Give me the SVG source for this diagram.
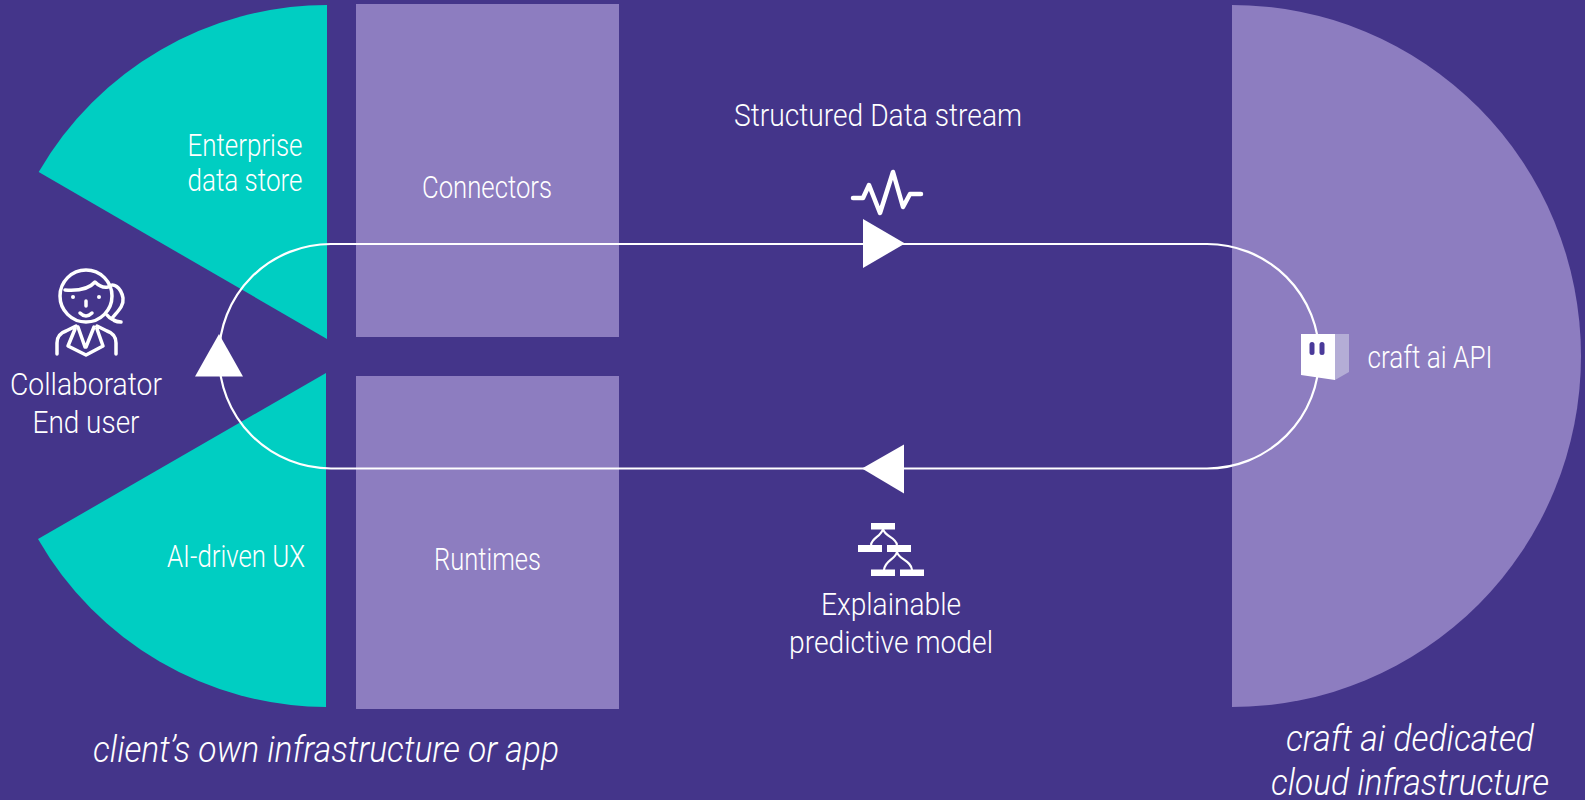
<svg xmlns="http://www.w3.org/2000/svg" width="1585" height="800" viewBox="0 0 1585 800">
<style>
.t{font-family:Roboto,"Liberation Sans",sans-serif;font-weight:300;font-size:31px;fill:#fff;text-anchor:middle}
.i{font-style:italic;font-size:37px}
.teal{fill:#00cec2}
.lav{fill:#8d7dc0}
.ln{fill:none;stroke:#fff;stroke-width:2.2}
.ic{fill:none;stroke:#fff;stroke-width:3.500;stroke-linecap:round;stroke-linejoin:round}
.tri{fill:#fff}
</style>
<rect width="1585" height="800" fill="#44358a"/>
<g id="enterprise-data-store"><path class="teal" d="M327 5V339L38.700 172A334 334 0 0 1 327 5Z"/><text class="t" x="245" y="156" textLength="115" lengthAdjust="spacingAndGlyphs">Enterprise</text><text class="t" x="245" y="191" textLength="115" lengthAdjust="spacingAndGlyphs">data store</text></g>
<g id="ai-driven-ux"><path class="teal" d="M326 373V707A334 334 0 0 1 38 539Z"/><text class="t" x="236" y="567" textLength="138" lengthAdjust="spacingAndGlyphs">AI-driven UX</text></g>
<g id="connectors"><rect class="lav" x="356" y="4" width="263" height="333"/><text class="t" x="487" y="198" textLength="130" lengthAdjust="spacingAndGlyphs">Connectors</text></g>
<g id="runtimes"><rect class="lav" x="356" y="376" width="263" height="333"/><text class="t" x="487.500" y="570" textLength="107" lengthAdjust="spacingAndGlyphs">Runtimes</text></g>
<g id="craft-ai-cloud"><path class="lav" d="M1232 5A349 351 0 0 1 1232 707Z"/></g>
<g id="links"><path class="ln" d="M219 356A112 112 0 0 1 331 244H1207A112 112 0 0 1 1207 468.500H331A112 112 0 0 1 219 356"/><path class="tri" d="M863 219L905 243.500L863 268Z"/><path class="tri" d="M904 444.500L862 468.500L904 493.500Z"/><path class="tri" d="M219 334L243 376.500H195Z"/></g>
<g id="collaborator"><g class="ic"><circle cx="86" cy="296" r="26"/><path d="M65 290C78 291 89 289 95 282C99 286 103 288 108 287M108 287C113 282 121 287 123 298C124 306 118 311 113 317C111 320 116 322 121 322M107 315C110 319 114 321 121 322"/><path d="M86 301V306M80 313Q86 319 92 313"/><path d="M57 354V343Q57 334 66 331L76 326M116 354V343Q116 334 107 331L97 326M75 329L68 346L86 355L103 346L97 329M78 327L85 347M94 327L86 347"/></g><circle cx="73" cy="297" r="2" fill="#fff"/><circle cx="99" cy="297" r="2" fill="#fff"/><text class="t" x="86" y="395" textLength="152" lengthAdjust="spacingAndGlyphs">Collaborator</text><text class="t" x="86" y="433" textLength="107" lengthAdjust="spacingAndGlyphs">End user</text></g>
<g id="structured-data-stream"><path class="ic" style="stroke-width:4.500" d="M853 198H863L869 185L880 213L893 172L903 207L910 194H921"/><text class="t" x="878" y="126" textLength="288" lengthAdjust="spacingAndGlyphs">Structured Data stream</text></g>
<g id="explainable-model"><g fill="#fff"><rect x="871" y="523" width="24" height="6.500"/><rect x="858" y="545" width="24" height="7"/><rect x="887" y="545" width="24" height="7"/><rect x="871" y="569.500" width="24" height="6.500"/><rect x="900" y="569.500" width="24" height="6.500"/></g><path class="ln" d="M883 529C881 537 872 537 871 545M883 529C885 537 896 537 897 545M897 552C895 560 885 560 884 570M897 552C899 560 911 560 912 570"/><text class="t" x="891" y="615" textLength="140" lengthAdjust="spacingAndGlyphs">Explainable</text><text class="t" x="891" y="653" textLength="204" lengthAdjust="spacingAndGlyphs">predictive model</text></g>
<g id="craft-ai-api"><path fill="#fff" d="M1301 334H1335V380L1301 375Z"/><path fill="#b4add6" d="M1335 334H1349V372L1335 380Z"/><rect x="1309.500" y="342" width="5" height="13" rx="2.500" fill="#4a3a9a"/><rect x="1319.500" y="342" width="5" height="13" rx="2.500" fill="#4a3a9a"/><text class="t" x="1430" y="368" textLength="125" lengthAdjust="spacingAndGlyphs">craft ai API</text></g>
<text class="t i" x="326" y="762" textLength="466" lengthAdjust="spacingAndGlyphs">client’s own infrastructure or app</text>
<text class="t i" x="1410" y="751" textLength="248" lengthAdjust="spacingAndGlyphs">craft ai dedicated</text>
<text class="t i" x="1410" y="795" textLength="278" lengthAdjust="spacingAndGlyphs">cloud infrastructure</text>
</svg>
